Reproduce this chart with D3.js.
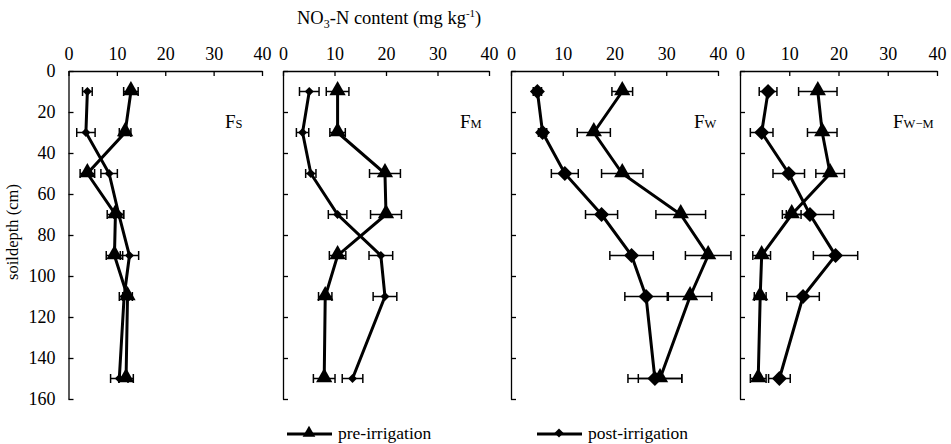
<!DOCTYPE html>
<html>
<head>
<meta charset="utf-8">
<script src="https://cdn.jsdelivr.net/npm/d3@7"></script>
<style>
  body { margin: 0; background: #fff; }
  text { font-family: "Liberation Serif", "Times New Roman", serif; fill: #000; }
</style>
</head>
<body>
<div id="chart"></div>
<script>
// soil depth of each sample (cm)
var depths = [10, 30, 50, 70, 90, 110, 150];
var xTicks = [0, 10, 20, 30, 40];
var yTicks = [0, 20, 40, 60, 80, 100, 120, 140, 160];

// NO3-N content, mean and error, per field
var fsPre      = [12.9, 11.7, 3.9, 9.7, 9.5, 12.2, 11.9];
var fsPreErr   = [1.5, 1.2, 1.5, 1.7, 1.7, 1.0, 1.5];
var fsPost     = [3.9, 3.6, 8.4, 10.4, 12.6, 11.5, 10.5];
var fsPostErr  = [1.0, 1.9, 1.7, 1.0, 1.9, 1.0, 1.8];

var fmPre      = [10.6, 10.6, 19.8, 20.0, 10.6, 8.2, 8.0];
var fmPreErr   = [2.2, 1.5, 3.0, 3.0, 1.6, 1.3, 2.1];
var fmPost     = [5.1, 3.8, 5.4, 10.6, 19.0, 19.8, 13.5];
var fmPostErr  = [1.9, 1.2, 1.0, 1.8, 2.3, 2.3, 2.0];

var fwPre      = [21.5, 16.0, 21.5, 32.8, 38.1, 34.6, 28.8];
var fwPreErr   = [2.0, 3.2, 4.0, 4.8, 4.4, 4.2, 4.2];
var fwPost     = [5.1, 6.1, 10.4, 17.5, 23.3, 26.1, 27.8];
var fwPostErr  = [0.8, 0.8, 2.6, 3.1, 4.2, 4.1, 5.2];

var fwmPre     = [15.8, 16.7, 18.3, 10.5, 4.4, 4.1, 3.7];
var fwmPreErr  = [3.9, 3.0, 2.9, 1.9, 1.8, 1.2, 1.6];
var fwmPost    = [5.7, 4.4, 9.9, 14.2, 19.4, 12.8, 8.0];
var fwmPostErr = [1.8, 2.3, 3.2, 4.8, 4.5, 3.3, 2.2];

var panels = [
    {sub: "S",      pre: fsPre,  preErr: fsPreErr,  post: fsPost,  postErr: fsPostErr,  x0: 68.5, x1: 262, dia: 40,  labelX: 225},
    {sub: "M",      pre: fmPre,  preErr: fmPreErr,  post: fmPost,  postErr: fmPostErr,  x0: 283,  x1: 489, dia: 40,  labelX: 460},
    {sub: "W",      pre: fwPre,  preErr: fwPreErr,  post: fwPost,  postErr: fwPostErr,  x0: 511,  x1: 718, dia: 112, labelX: 694},
    {sub: "W\u2212M", pre: fwmPre, preErr: fwmPreErr, post: fwmPost, postErr: fwmPostErr, x0: 740,  x1: 937, dia: 112, labelX: 893}
];

var svg = d3.select("#chart").append("svg")
    .attr("width", 951)
    .attr("height", 444)
    .attr("font-family", "Liberation Serif");

var y = d3.scaleLinear().domain([0, 160]).range([71, 399]);

var triangle = d3.symbol().type(d3.symbolTriangle).size(115);

panels.forEach(function(p, i) {
    var x = d3.scaleLinear().domain([0, 40]).range([p.x0, p.x1]);
    var g = svg.append("g");

    // top axis, ticks point into the plot
    var top = g.append("g")
        .attr("transform", "translate(0," + y(0) + ")")
        .call(d3.axisTop(x).tickValues(xTicks).tickSizeInner(-5).tickSizeOuter(0).tickPadding(11.5));
    // left axis, ticks point into the plot
    var left = g.append("g")
        .attr("transform", "translate(" + x(0) + ",0)")
        .call(d3.axisLeft(y).tickValues(yTicks).tickSizeInner(-5).tickSizeOuter(0).tickPadding(13));
    if (i > 0) left.selectAll("text").remove();
    [top, left].forEach(function(a) {
        a.attr("font-family", null);
        a.select(".domain").attr("stroke", "#000").attr("stroke-width", 1.3);
        a.selectAll(".tick line").attr("stroke", "#000").attr("stroke-width", 1.3);
        a.selectAll("text").style("font-family", "Liberation Serif").style("font-size", "18px").attr("fill", "#000");
    });

    var line = d3.line()
        .x(function(d) { return x(d[0]); })
        .y(function(d) { return y(d[1]); });

    [[p.pre, p.preErr], [p.post, p.postErr]].forEach(function(s) {
        var pts = s[0].map(function(v, j) { return [v, depths[j], s[1][j]]; });

        g.append("path")
            .datum(pts)
            .attr("d", line)
            .attr("fill", "none")
            .attr("stroke", "#000")
            .attr("stroke-width", 3);

        var eb = g.append("g").attr("stroke", "#000").attr("stroke-width", 1.5);
        pts.forEach(function(d) {
            var yy = y(d[1]);
            eb.append("line").attr("x1", x(d[0] - d[2])).attr("x2", x(d[0] + d[2])).attr("y1", yy).attr("y2", yy);
            eb.append("line").attr("x1", x(d[0] - d[2])).attr("x2", x(d[0] - d[2])).attr("y1", yy - 4.5).attr("y2", yy + 4.5);
            eb.append("line").attr("x1", x(d[0] + d[2])).attr("x2", x(d[0] + d[2])).attr("y1", yy - 4.5).attr("y2", yy + 4.5);
        });
    });

    var diamond = d3.symbol().type(d3.symbolSquare).size(p.dia);
    g.selectAll(".post")
        .data(p.post)
        .enter().append("path")
        .attr("d", diamond)
        .attr("transform", function(d, j) { return "translate(" + x(d) + "," + y(depths[j]) + ") rotate(45)"; })
        .attr("fill", "#000");

    g.selectAll(".pre")
        .data(p.pre)
        .enter().append("path")
        .attr("d", triangle)
        .attr("transform", function(d, j) { return "translate(" + x(d) + "," + (y(depths[j]) - 1) + ")"; })
        .attr("fill", "#000");

    var lab = g.append("text")
        .attr("x", p.labelX)
        .attr("y", 128)
        .style("font-size", "19px");
    lab.append("tspan").text("F");
    lab.append("tspan").style("font-size", "12.5px").text(p.sub);
});

// title
var title = svg.append("text")
    .attr("x", 297)
    .attr("y", 24)
    .style("font-size", "18.5px");
title.append("tspan").text("NO");
title.append("tspan").attr("dy", 4).style("font-size", "12px").text("3");
title.append("tspan").attr("dy", -4).text("-N content (mg kg");
title.append("tspan").attr("dy", -7).style("font-size", "11px").text("-1");
title.append("tspan").attr("dy", 7).text(")");

svg.append("text")
    .attr("transform", "translate(18,232) rotate(-90)")
    .attr("text-anchor", "middle")
    .style("font-size", "16.5px")
    .text("soildepth (cm)");

// legend
var legendNames = ["pre-irrigation", "post-irrigation"];
var legendX = [287, 537];
legendNames.forEach(function(name, i) {
    var lx = legendX[i], ly = 434;
    svg.append("line")
        .attr("x1", lx).attr("x2", lx + 45)
        .attr("y1", ly).attr("y2", ly)
        .attr("stroke", "#000").attr("stroke-width", 3);
    svg.append("path")
        .attr("d", i === 0 ? d3.symbol().type(d3.symbolTriangle).size(70)() : d3.symbol().type(d3.symbolSquare).size(40)())
        .attr("transform", "translate(" + (lx + 22) + "," + (ly - 1) + ")" + (i === 1 ? " rotate(45)" : ""))
        .attr("fill", "#000");
    svg.append("text")
        .attr("x", lx + 51)
        .attr("y", ly + 5)
        .style("font-size", "17.5px")
        .text(name);
});
</script>
</body>
</html>
